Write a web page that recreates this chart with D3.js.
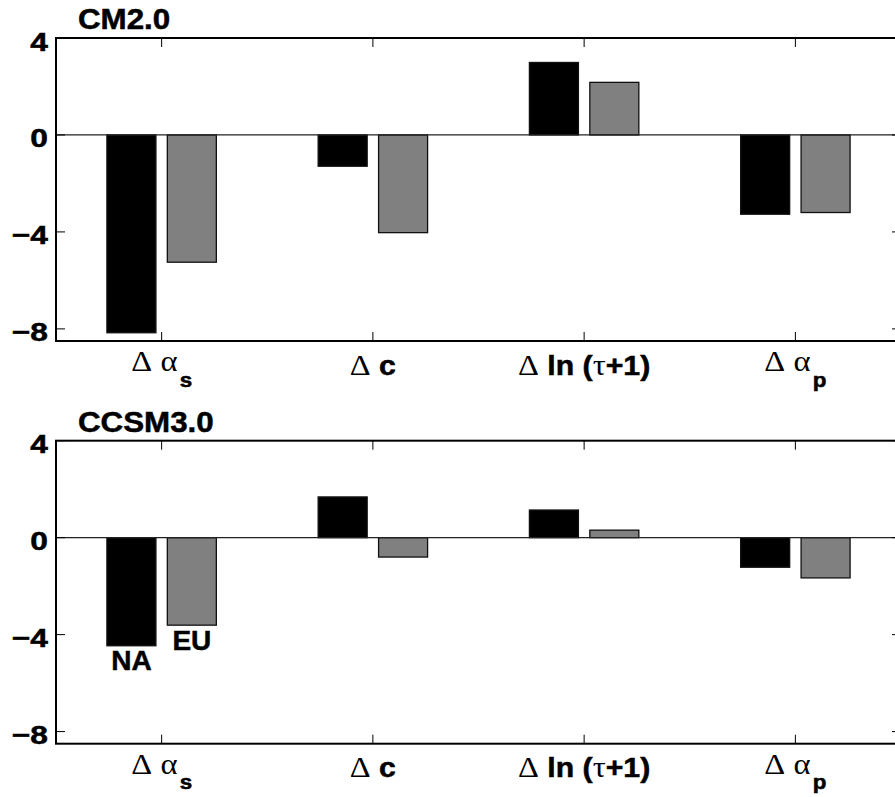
<!DOCTYPE html>
<html><head><meta charset="utf-8">
<script src="https://cdn.jsdelivr.net/npm/d3@7"></script>
<style>body{margin:0;background:#fff}svg{display:block}</style>
</head><body><svg id="c" width="895" height="797"></svg>
<script>
// ---- data ----
const categories = ["Δ α_s", "Δ c", "Δ ln (τ+1)", "Δ α_p"];
const yTickValues = [-8, -4, 0, 4];
const seriesNames = ["NA", "EU"];
const cm2NA   = [-8.16, -1.29, 2.99, -3.27];
const cm2EU   = [-5.25, -4.03, 2.17, -3.20];
const ccsm3NA = [-4.46, 1.68, 1.14, -1.22];
const ccsm3EU = [-3.61, -0.80, 0.31, -1.66];

// ---- layout ----
const panels = [
  {title: "CM2.0",   na: cm2NA,   eu: cm2EU,   top: 38,    bottom: 341,   labels: false},
  {title: "CCSM3.0", na: ccsm3NA, eu: ccsm3EU, top: 440.7, bottom: 743.7, labels: true}
];
const svg = d3.select("#c");
const x = d3.scaleLinear().domain([0.5, 4.5]).range([56, 901]);
const barW = 0.232, off = 0.143;
const greek = /[Δατ]/;
const SANS = "Liberation Sans, Arial, Helvetica, sans-serif";
const SERIF = "Liberation Serif, Times New Roman, serif";

function tickLabelParts(s) {
  const parts = [];
  let main = s, sub = null;
  const k = s.indexOf("_");
  if (k >= 0) { main = s.slice(0, k); sub = s.slice(k + 1); }
  let cur = null;
  for (const ch of main) {
    const g = greek.test(ch);
    if (!cur || cur.g !== g) { cur = {g, t: ""}; parts.push(cur); }
    cur.t += ch;
  }
  return {parts, sub};
}

function boldText(sel) {
  return sel.attr("font-family", SANS).attr("font-weight", "bold")
    .attr("stroke", "#000").attr("stroke-width", 0.5).attr("fill", "#000");
}

panels.forEach(p => {
  const y = d3.scaleLinear().domain([-8.5, 4]).range([p.bottom, p.top]);
  const g = svg.append("g");

  // bars
  const series = [{vals: p.na, dx: -off, fill: "#000"}, {vals: p.eu, dx: off, fill: "#808080"}];
  series.forEach(s => {
    g.selectAll(null).data(s.vals).enter().append("rect")
      .attr("x", (d, i) => x(i + 1 + s.dx - barW / 2))
      .attr("width", x(barW) - x(0))
      .attr("y", d => y(Math.max(0, d)))
      .attr("height", d => Math.abs(y(d) - y(0)))
      .attr("fill", s.fill).attr("stroke", "#111").attr("stroke-width", 1.3);
  });

  // zero line
  g.append("line").attr("x1", x(0.5)).attr("x2", x(4.5))
    .attr("y1", y(0)).attr("y2", y(0)).attr("stroke", "#222").attr("stroke-width", 1.2);

  // ticks (inward, mirrored)
  const tl = 9;
  yTickValues.forEach(v => {
    g.append("line").attr("x1", x(0.5)).attr("x2", x(0.5) + tl).attr("y1", y(v)).attr("y2", y(v))
      .attr("stroke", "#000").attr("stroke-width", 1);
    g.append("line").attr("x1", x(4.5)).attr("x2", x(4.5) - tl).attr("y1", y(v)).attr("y2", y(v))
      .attr("stroke", "#000").attr("stroke-width", 1);
    boldText(g.append("text").attr("transform", `translate(${x(0.5) - 8},${y(v) + 12.5}) scale(1.22,1)`)
      .attr("text-anchor", "end").attr("font-size", 26))
      .text(v < 0 ? "\u2212" + Math.abs(v) : String(v));
  });
  categories.forEach((c, i) => {
    const cx = x(i + 1);
    g.append("line").attr("x1", cx).attr("x2", cx).attr("y1", y(-8.5)).attr("y2", y(-8.5) - tl)
      .attr("stroke", "#000").attr("stroke-width", 1);
    g.append("line").attr("x1", cx).attr("x2", cx).attr("y1", y(4)).attr("y2", y(4) + tl)
      .attr("stroke", "#000").attr("stroke-width", 1);
    const {parts, sub} = tickLabelParts(c);
    const base = y(-8.5) + (sub ? 30 : 33.5);
    const t = g.append("text").attr("transform", `translate(${cx},${base}) scale(1.12,1)`)
      .attr("text-anchor", "middle").attr("font-size", 27);
    parts.forEach(pt => {
      const ts = t.append("tspan").text(pt.t);
      if (pt.g) ts.attr("font-family", SERIF).attr("font-weight", "normal").attr("font-size", 29);
      else boldText(ts);
    });
    if (sub) {
      boldText(t.append("tspan").text(sub).attr("dy", 15.5).attr("dx", 2).attr("font-size", 20));
    }
  });

  // axes box
  g.append("rect").attr("x", x(0.5)).attr("y", y(4)).attr("width", x(4.5) - x(0.5))
    .attr("height", y(-8.5) - y(4)).attr("fill", "none").attr("stroke", "#000").attr("stroke-width", 2);

  // title
  boldText(g.append("text").attr("transform", `translate(78,${p.top - 9}) scale(1.08,1)`)
    .attr("font-size", 29)).text(p.title);

  // series labels
  if (p.labels) {
    [[p.na[0], -off, seriesNames[0], 24.5], [p.eu[0], off, seriesNames[1], 25]].forEach(([v, dx, name, dy]) => {
      boldText(g.append("text").attr("x", x(1 + dx)).attr("y", y(v) + dy).attr("text-anchor", "middle")
        .attr("font-size", 28)).text(name);
    });
  }
});
</script></body></html>
